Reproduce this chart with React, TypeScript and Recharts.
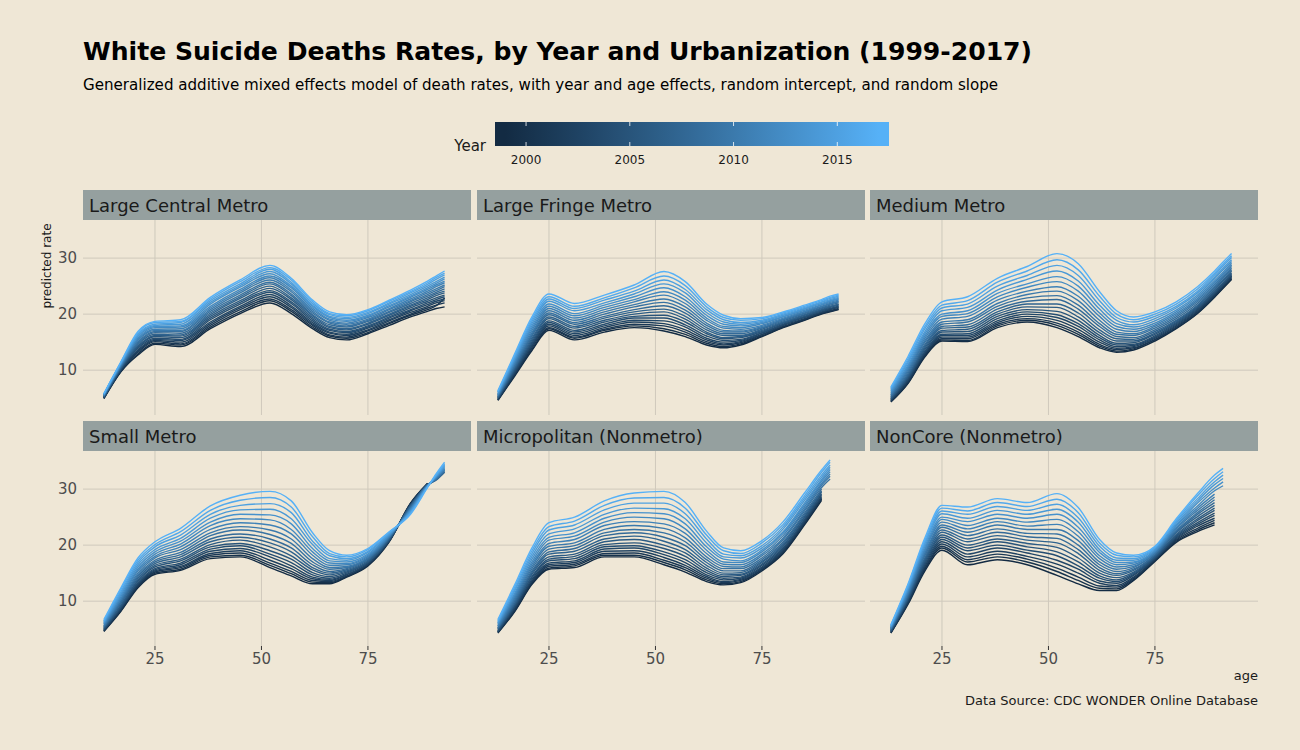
import { LineChart, Line, XAxis, YAxis, CartesianGrid } from 'recharts';

type Rate = number | null;

const ages = [13, 17, 21, 25, 31, 38, 45, 52, 57, 62, 66, 70, 75, 80, 85, 89, 91, 93];
const years = [1999, 2000, 2001, 2002, 2003, 2004, 2005, 2006, 2007, 2008, 2009, 2010, 2011, 2012, 2013, 2014, 2015, 2016, 2017];

// one row per year (1999 first), one column per age
const largeCentral: Rate[][] = [
  [4.9, 9.7, 12.7, 14.6, 14.2, 17.4, 20.1, 22.0, 20.1, 17.4, 15.8, 15.4, 16.5, 18.0, 19.5, 20.5, 21.0, 21.3],
  [5.0, 9.8, 12.9, 14.8, 14.5, 17.7, 20.4, 22.4, 20.5, 17.7, 16.1, 15.7, 16.7, 18.3, 19.8, 20.8, 21.5, 22.9],
  [5.0, 9.9, 13.2, 15.1, 14.7, 18.0, 20.8, 22.7, 20.8, 18.0, 16.3, 15.9, 17.0, 18.5, 20.0, 21.1, 21.6, 22.0],
  [5.1, 10.0, 13.4, 15.3, 15.0, 18.3, 21.1, 23.1, 21.2, 18.2, 16.6, 16.2, 17.2, 18.8, 20.3, 21.4, 22.0, 22.4],
  [5.1, 10.1, 13.6, 15.5, 15.3, 18.6, 21.4, 23.5, 21.5, 18.5, 16.8, 16.4, 17.5, 19.0, 20.6, 21.7, 22.3, 22.7],
  [5.2, 10.2, 13.9, 15.7, 15.5, 19.0, 21.8, 23.9, 21.9, 18.8, 17.1, 16.7, 17.7, 19.3, 20.8, 22.0, 22.6, 23.1],
  [5.2, 10.3, 14.1, 16.0, 15.8, 19.3, 22.1, 24.2, 22.2, 19.1, 17.3, 16.9, 17.9, 19.5, 21.1, 22.3, 22.9, 23.4],
  [5.3, 10.4, 14.3, 16.2, 16.1, 19.6, 22.4, 24.6, 22.6, 19.4, 17.6, 17.2, 18.2, 19.8, 21.4, 22.6, 23.3, 23.8],
  [5.3, 10.5, 14.6, 16.4, 16.3, 19.9, 22.8, 25.0, 22.9, 19.7, 17.8, 17.4, 18.4, 20.0, 21.6, 22.9, 23.6, 24.1],
  [5.4, 10.6, 14.8, 16.7, 16.6, 20.2, 23.1, 25.4, 23.3, 19.9, 18.1, 17.7, 18.7, 20.3, 21.9, 23.2, 23.9, 24.5],
  [5.4, 10.7, 15.0, 16.9, 16.9, 20.5, 23.4, 25.7, 23.6, 20.2, 18.4, 17.9, 18.9, 20.5, 22.2, 23.5, 24.2, 24.9],
  [5.5, 10.8, 15.3, 17.1, 17.1, 20.8, 23.8, 26.1, 24.0, 20.5, 18.6, 18.2, 19.1, 20.8, 22.4, 23.8, 24.5, 25.2],
  [5.5, 10.9, 15.5, 17.3, 17.4, 21.1, 24.1, 26.5, 24.3, 20.8, 18.9, 18.4, 19.4, 21.0, 22.7, 24.1, 24.9, 25.6],
  [5.6, 11.0, 15.7, 17.6, 17.7, 21.4, 24.4, 26.8, 24.7, 21.1, 19.1, 18.7, 19.6, 21.3, 23.0, 24.4, 25.2, 25.9],
  [5.6, 11.1, 16.0, 17.8, 17.9, 21.8, 24.8, 27.2, 25.0, 21.4, 19.4, 18.9, 19.8, 21.5, 23.2, 24.7, 25.5, 26.3],
  [5.7, 11.2, 16.2, 18.0, 18.2, 22.1, 25.1, 27.6, 25.4, 21.6, 19.6, 19.2, 20.1, 21.8, 23.5, 25.0, 25.8, 26.6],
  [5.7, 11.3, 16.4, 18.2, 18.5, 22.4, 25.4, 28.0, 25.7, 21.9, 19.9, 19.4, 20.3, 22.0, 23.8, 25.3, 26.2, 27.0],
  [5.8, 11.4, 16.7, 18.5, 18.7, 22.7, 25.8, 28.3, 26.1, 22.2, 20.1, 19.7, 20.6, 22.3, 24.0, 25.6, 26.5, 27.3],
  [5.8, 11.5, 16.9, 18.7, 19.0, 23.0, 26.1, 28.7, 26.4, 22.5, 20.4, 19.9, 20.8, 22.5, 24.3, 25.9, 26.8, 27.7],
];

const largeFringe: Rate[][] = [
  [4.6, 9.0, 13.5, 17.1, 15.4, 16.8, 17.6, 17.0, 16.0, 14.5, 14.0, 14.5, 16.0, 17.6, 18.9, 20.0, 20.4, 20.8],
  [4.7, 9.2, 13.7, 17.4, 15.7, 17.1, 17.9, 17.4, 16.4, 14.8, 14.2, 14.7, 16.1, 17.7, 19.0, 20.1, 20.5, 20.9],
  [4.7, 9.3, 14.0, 17.6, 15.9, 17.3, 18.2, 17.9, 16.8, 15.1, 14.5, 14.9, 16.3, 17.8, 19.1, 20.2, 20.6, 21.0],
  [4.8, 9.5, 14.3, 17.9, 16.2, 17.6, 18.6, 18.3, 17.2, 15.4, 14.7, 15.1, 16.4, 18.0, 19.2, 20.3, 20.8, 21.2],
  [4.9, 9.7, 14.5, 18.2, 16.5, 17.9, 18.9, 18.8, 17.7, 15.7, 15.0, 15.3, 16.6, 18.1, 19.4, 20.4, 20.9, 21.3],
  [5.0, 9.9, 14.8, 18.5, 16.8, 18.2, 19.3, 19.3, 18.1, 16.1, 15.3, 15.5, 16.7, 18.2, 19.5, 20.6, 21.0, 21.4],
  [5.1, 10.1, 15.1, 18.8, 17.1, 18.6, 19.6, 19.8, 18.6, 16.5, 15.6, 15.8, 16.9, 18.4, 19.6, 20.7, 21.2, 21.6],
  [5.1, 10.3, 15.4, 19.2, 17.5, 18.9, 20.0, 20.4, 19.1, 16.8, 15.8, 16.0, 17.1, 18.5, 19.8, 20.8, 21.3, 21.7],
  [5.2, 10.5, 15.7, 19.5, 17.8, 19.3, 20.4, 20.9, 19.6, 17.2, 16.2, 16.2, 17.3, 18.6, 19.9, 21.0, 21.4, 21.8],
  [5.3, 10.7, 16.1, 19.9, 18.2, 19.6, 20.8, 21.5, 20.2, 17.6, 16.5, 16.5, 17.5, 18.8, 20.1, 21.1, 21.6, 22.0],
  [5.4, 10.9, 16.4, 20.2, 18.5, 20.0, 21.3, 22.1, 20.7, 18.0, 16.8, 16.8, 17.6, 19.0, 20.2, 21.3, 21.8, 22.2],
  [5.5, 11.2, 16.7, 20.6, 18.9, 20.4, 21.7, 22.7, 21.3, 18.4, 17.1, 17.0, 17.8, 19.1, 20.4, 21.4, 21.9, 22.3],
  [5.6, 11.4, 17.1, 21.0, 19.3, 20.8, 22.2, 23.4, 21.9, 18.9, 17.5, 17.3, 18.0, 19.3, 20.5, 21.6, 22.1, 22.5],
  [5.7, 11.7, 17.5, 21.4, 19.7, 21.2, 22.6, 24.0, 22.5, 19.3, 17.8, 17.6, 18.3, 19.5, 20.7, 21.7, 22.3, 22.7],
  [5.8, 11.9, 17.9, 21.8, 20.1, 21.6, 23.1, 24.7, 23.1, 19.8, 18.2, 17.9, 18.5, 19.6, 20.9, 21.9, 22.4, 22.8],
  [6.0, 12.2, 18.3, 22.3, 20.6, 22.0, 23.6, 25.4, 23.8, 20.3, 18.6, 18.2, 18.7, 19.8, 21.0, 22.1, 22.6, 23.0],
  [6.1, 12.4, 18.7, 22.7, 21.0, 22.5, 24.1, 26.1, 24.4, 20.8, 19.0, 18.5, 18.9, 20.0, 21.2, 22.2, 22.8, 23.2],
  [6.2, 12.7, 19.1, 23.1, 21.4, 22.9, 24.7, 26.8, 25.1, 21.3, 19.4, 18.9, 19.2, 20.2, 21.4, 22.4, 23.0, 23.4],
  [6.3, 13.0, 19.5, 23.6, 21.9, 23.4, 25.2, 27.6, 25.8, 21.8, 19.8, 19.2, 19.4, 20.4, 21.6, 22.6, 23.2, 23.6],
];

const mediumMetro: Rate[][] = [
  [4.3, 7.6, 12.4, 15.2, 15.1, 17.6, 18.6, 17.6, 16.0, 14.0, 13.2, 13.6, 15.2, 17.4, 20.1, 23.0, 24.6, 26.2],
  [4.4, 7.7, 12.6, 15.4, 15.3, 17.9, 18.9, 18.0, 16.4, 14.3, 13.4, 13.8, 15.4, 17.5, 20.2, 23.1, 24.7, 26.3],
  [4.5, 7.9, 12.8, 15.6, 15.6, 18.2, 19.2, 18.4, 16.8, 14.6, 13.7, 14.0, 15.5, 17.7, 20.4, 23.3, 24.9, 26.5],
  [4.6, 8.1, 13.0, 15.9, 15.9, 18.5, 19.6, 18.9, 17.3, 15.0, 13.9, 14.2, 15.7, 17.9, 20.6, 23.5, 25.1, 26.7],
  [4.7, 8.3, 13.2, 16.2, 16.2, 18.8, 20.0, 19.4, 17.8, 15.4, 14.2, 14.4, 15.9, 18.1, 20.8, 23.6, 25.2, 26.8],
  [4.8, 8.5, 13.4, 16.4, 16.5, 19.2, 20.4, 19.9, 18.3, 15.8, 14.5, 14.6, 16.1, 18.3, 21.0, 23.8, 25.4, 27.0],
  [4.9, 8.7, 13.7, 16.8, 16.9, 19.6, 20.8, 20.5, 18.9, 16.2, 14.8, 14.9, 16.4, 18.5, 21.2, 24.0, 25.6, 27.2],
  [5.0, 8.9, 14.0, 17.1, 17.3, 20.0, 21.3, 21.2, 19.5, 16.7, 15.2, 15.2, 16.6, 18.7, 21.4, 24.3, 25.9, 27.4],
  [5.2, 9.1, 14.3, 17.5, 17.7, 20.4, 21.8, 21.8, 20.2, 17.2, 15.6, 15.5, 16.9, 18.9, 21.6, 24.5, 26.1, 27.7],
  [5.3, 9.4, 14.6, 17.8, 18.1, 20.9, 22.3, 22.6, 20.9, 17.8, 16.0, 15.8, 17.2, 19.2, 21.9, 24.8, 26.4, 27.9],
  [5.5, 9.7, 15.0, 18.2, 18.6, 21.4, 22.9, 23.3, 21.6, 18.3, 16.4, 16.2, 17.5, 19.5, 22.2, 25.0, 26.6, 28.2],
  [5.6, 10.0, 15.3, 18.6, 19.0, 21.9, 23.5, 24.1, 22.4, 18.9, 16.8, 16.5, 17.8, 19.8, 22.5, 25.3, 26.9, 28.5],
  [5.8, 10.3, 15.7, 19.1, 19.6, 22.5, 24.1, 24.9, 23.2, 19.6, 17.3, 16.9, 18.1, 20.1, 22.8, 25.6, 27.2, 28.8],
  [6.0, 10.6, 16.1, 19.6, 20.1, 23.1, 24.8, 25.8, 24.1, 20.2, 17.8, 17.3, 18.4, 20.4, 23.1, 25.9, 27.5, 29.1],
  [6.2, 10.9, 16.5, 20.0, 20.6, 23.7, 25.4, 26.7, 25.0, 20.9, 18.3, 17.7, 18.8, 20.7, 23.4, 26.3, 27.9, 29.4],
  [6.4, 11.3, 16.9, 20.6, 21.2, 24.3, 26.2, 27.7, 25.9, 21.6, 18.9, 18.1, 19.2, 21.1, 23.8, 26.6, 28.2, 29.7],
  [6.6, 11.6, 17.4, 21.1, 21.8, 25.0, 26.9, 28.7, 26.9, 22.4, 19.4, 18.6, 19.6, 21.4, 24.1, 27.0, 28.6, 30.1],
  [6.8, 12.0, 17.8, 21.6, 22.4, 25.7, 27.7, 29.7, 27.9, 23.2, 20.0, 19.0, 20.0, 21.8, 24.5, 27.3, 28.9, 30.4],
  [7.0, 12.4, 18.3, 22.2, 23.1, 26.4, 28.5, 30.8, 29.0, 24.0, 20.6, 19.5, 20.4, 22.2, 24.9, 27.7, 29.3, 30.8],
];

const smallMetro: Rate[][] = [
  [4.6, 8.2, 12.4, 14.8, 15.5, 17.6, 17.9, 16.0, 14.5, 13.1, 13.1, 14.3, 16.3, 20.6, 27.5, 31.0, null, null],
  [4.7, 8.3, 12.6, 15.0, 15.7, 17.9, 18.2, 16.4, 14.9, 13.4, 13.3, 14.4, 16.4, 20.7, 27.4, 31.0, null, null],
  [4.7, 8.5, 12.7, 15.2, 16.0, 18.2, 18.6, 16.8, 15.3, 13.7, 13.5, 14.5, 16.5, 20.7, 27.4, 31.0, null, null],
  [4.8, 8.6, 12.9, 15.4, 16.2, 18.5, 19.0, 17.3, 15.8, 14.0, 13.7, 14.7, 16.6, 20.8, 27.3, 30.9, null, null],
  [4.9, 8.8, 13.1, 15.6, 16.5, 18.9, 19.4, 17.9, 16.3, 14.3, 13.9, 14.8, 16.7, 20.8, 27.2, 30.9, null, null],
  [5.0, 8.9, 13.3, 15.8, 16.8, 19.3, 19.9, 18.4, 16.9, 14.7, 14.1, 15.0, 16.9, 20.9, 27.1, 30.9, null, null],
  [5.1, 9.1, 13.6, 16.1, 17.2, 19.7, 20.3, 19.0, 17.5, 15.1, 14.4, 15.2, 17.0, 21.0, 27.1, 30.8, null, null],
  [5.2, 9.3, 13.8, 16.4, 17.5, 20.1, 20.9, 19.7, 18.1, 15.6, 14.7, 15.4, 17.1, 21.1, 27.0, 30.8, null, null],
  [5.3, 9.6, 14.1, 16.7, 17.9, 20.6, 21.4, 20.4, 18.8, 16.0, 15.0, 15.6, 17.3, 21.2, 26.9, 30.8, 31.6, 33.0],
  [5.4, 9.8, 14.4, 17.0, 18.3, 21.1, 22.0, 21.1, 19.5, 16.5, 15.3, 15.8, 17.5, 21.3, 26.8, 30.7, 31.7, 33.1],
  [5.5, 10.0, 14.7, 17.3, 18.7, 21.7, 22.7, 21.9, 20.3, 17.0, 15.7, 16.0, 17.6, 21.4, 26.6, 30.7, 31.8, 33.3],
  [5.6, 10.3, 15.0, 17.7, 19.2, 22.2, 23.3, 22.7, 21.1, 17.6, 16.0, 16.2, 17.8, 21.5, 26.5, 30.7, 31.9, 33.4],
  [5.8, 10.5, 15.4, 18.0, 19.7, 22.8, 24.0, 23.6, 22.0, 18.2, 16.4, 16.5, 18.0, 21.6, 26.4, 30.6, 32.0, 33.6],
  [5.9, 10.8, 15.7, 18.4, 20.2, 23.5, 24.7, 24.5, 22.8, 18.8, 16.8, 16.7, 18.2, 21.7, 26.3, 30.6, 32.1, 33.7],
  [6.1, 11.1, 16.1, 18.8, 20.7, 24.1, 25.5, 25.4, 23.8, 19.4, 17.2, 17.0, 18.4, 21.8, 26.1, 30.5, 32.2, 33.9],
  [6.2, 11.4, 16.5, 19.2, 21.2, 24.8, 26.3, 26.4, 24.7, 20.1, 17.6, 17.3, 18.7, 22.0, 26.0, 30.5, 32.3, 34.1],
  [6.4, 11.7, 16.9, 19.7, 21.8, 25.5, 27.1, 27.4, 25.8, 20.7, 18.1, 17.6, 18.9, 22.1, 25.8, 30.4, 32.4, 34.3],
  [6.5, 12.1, 17.3, 20.1, 22.4, 26.2, 28.0, 28.5, 26.8, 21.5, 18.5, 17.9, 19.2, 22.3, 25.7, 30.4, 32.5, 34.5],
  [6.7, 12.4, 17.7, 20.6, 23.0, 27.0, 28.9, 29.6, 27.9, 22.2, 19.0, 18.2, 19.4, 22.4, 25.5, 30.3, 32.7, 34.8],
];

const micropolitan: Rate[][] = [
  [4.3, 8.2, 13.0, 15.7, 16.0, 17.9, 17.9, 16.5, 15.2, 13.5, 12.9, 13.3, 15.4, 18.5, 23.6, 28.0, null, null],
  [4.4, 8.3, 13.2, 15.9, 16.3, 18.2, 18.2, 16.9, 15.6, 13.8, 13.1, 13.5, 15.6, 18.7, 23.8, 28.2, null, null],
  [4.5, 8.5, 13.4, 16.2, 16.6, 18.5, 18.6, 17.3, 16.0, 14.1, 13.3, 13.7, 15.7, 18.9, 24.0, 28.3, null, null],
  [4.5, 8.7, 13.6, 16.5, 16.9, 18.9, 19.0, 17.8, 16.4, 14.4, 13.5, 13.9, 15.9, 19.1, 24.2, 28.5, null, null],
  [4.6, 8.9, 13.9, 16.8, 17.2, 19.3, 19.5, 18.3, 16.9, 14.7, 13.8, 14.1, 16.1, 19.3, 24.4, 28.7, null, null],
  [4.7, 9.1, 14.2, 17.2, 17.6, 19.7, 19.9, 18.8, 17.4, 15.1, 14.1, 14.3, 16.4, 19.5, 24.6, 29.0, null, null],
  [4.8, 9.3, 14.4, 17.5, 18.0, 20.1, 20.4, 19.4, 18.0, 15.5, 14.4, 14.6, 16.6, 19.8, 24.9, 29.2, null, null],
  [5.0, 9.5, 14.8, 17.9, 18.4, 20.6, 21.0, 20.0, 18.6, 15.9, 14.7, 14.8, 16.9, 20.0, 25.1, 29.5, null, null],
  [5.1, 9.7, 15.1, 18.4, 18.9, 21.1, 21.6, 20.7, 19.2, 16.4, 15.0, 15.1, 17.1, 20.3, 25.4, 29.7, null, null],
  [5.2, 10.0, 15.4, 18.8, 19.4, 21.7, 22.2, 21.4, 19.9, 16.9, 15.4, 15.4, 17.4, 20.6, 25.7, 30.0, null, null],
  [5.3, 10.3, 15.8, 19.3, 19.9, 22.2, 22.8, 22.2, 20.6, 17.4, 15.8, 15.8, 17.7, 21.0, 26.1, 30.3, 31.8, null],
  [5.5, 10.6, 16.2, 19.8, 20.4, 22.8, 23.5, 23.0, 21.3, 17.9, 16.2, 16.1, 18.1, 21.3, 26.4, 30.7, 32.3, null],
  [5.6, 10.9, 16.6, 20.3, 21.0, 23.5, 24.2, 23.8, 22.1, 18.5, 16.6, 16.5, 18.4, 21.7, 26.8, 31.0, 32.7, null],
  [5.8, 11.2, 17.0, 20.9, 21.6, 24.1, 25.0, 24.7, 22.9, 19.1, 17.0, 16.9, 18.8, 22.1, 27.2, 31.4, 33.1, null],
  [6.0, 11.5, 17.5, 21.4, 22.2, 24.8, 25.8, 25.6, 23.8, 19.7, 17.5, 17.2, 19.1, 22.4, 27.5, 31.7, 33.5, null],
  [6.1, 11.9, 18.0, 22.0, 22.9, 25.5, 26.6, 26.5, 24.7, 20.4, 17.9, 17.7, 19.5, 22.9, 28.0, 32.1, 33.9, null],
  [6.3, 12.2, 18.5, 22.7, 23.6, 26.3, 27.5, 27.5, 25.6, 21.1, 18.4, 18.1, 19.9, 23.3, 28.4, 32.5, 34.3, null],
  [6.5, 12.6, 19.0, 23.3, 24.3, 27.1, 28.4, 28.5, 26.6, 21.8, 19.0, 18.5, 20.4, 23.7, 28.8, 33.0, 34.8, null],
  [6.7, 13.0, 19.5, 24.0, 25.0, 27.9, 29.3, 29.6, 27.6, 22.5, 19.5, 19.0, 20.8, 24.2, 29.3, 33.4, 35.2, null],
];

const nonCore: Rate[][] = [
  [4.3, 9.4, 15.4, 19.1, 16.5, 17.4, 16.5, 14.6, 13.1, 11.9, 11.9, 13.7, 17.1, 20.5, 22.4, 23.6, null, null],
  [4.4, 9.6, 15.7, 19.5, 17.0, 17.9, 17.0, 15.3, 13.7, 12.3, 12.2, 13.9, 17.2, 20.7, 22.7, 24.0, null, null],
  [4.4, 9.7, 15.9, 19.8, 17.4, 18.4, 17.5, 15.9, 14.3, 12.7, 12.5, 14.1, 17.4, 20.9, 23.0, 24.4, null, null],
  [4.5, 9.9, 16.2, 20.2, 17.9, 18.9, 18.0, 16.6, 15.0, 13.2, 12.8, 14.3, 17.5, 21.1, 23.4, 24.8, null, null],
  [4.6, 10.1, 16.5, 20.6, 18.4, 19.5, 18.6, 17.3, 15.7, 13.6, 13.2, 14.6, 17.6, 21.3, 23.7, 25.3, null, null],
  [4.7, 10.3, 16.8, 21.0, 19.0, 20.0, 19.1, 18.1, 16.3, 14.1, 13.5, 14.8, 17.7, 21.5, 24.0, 25.7, null, null],
  [4.7, 10.4, 17.1, 21.4, 19.5, 20.6, 19.7, 18.8, 17.0, 14.5, 13.8, 15.0, 17.9, 21.7, 24.4, 26.2, null, null],
  [4.8, 10.6, 17.4, 21.8, 20.0, 21.1, 20.3, 19.6, 17.7, 15.0, 14.2, 15.2, 18.0, 21.9, 24.7, 26.6, null, null],
  [4.9, 10.8, 17.7, 22.3, 20.6, 21.7, 20.9, 20.4, 18.5, 15.5, 14.6, 15.5, 18.2, 22.2, 25.1, 27.1, null, null],
  [5.0, 11.0, 18.1, 22.7, 21.1, 22.3, 21.5, 21.2, 19.2, 16.0, 14.9, 15.7, 18.3, 22.4, 25.5, 27.6, null, null],
  [5.1, 11.2, 18.4, 23.2, 21.7, 22.9, 22.1, 22.0, 20.0, 16.5, 15.3, 16.0, 18.5, 22.6, 25.8, 28.1, null, null],
  [5.1, 11.4, 18.7, 23.6, 22.3, 23.6, 22.8, 22.8, 20.8, 17.0, 15.7, 16.2, 18.6, 22.9, 26.2, 28.6, null, null],
  [5.2, 11.6, 19.1, 24.1, 22.9, 24.2, 23.4, 23.7, 21.6, 17.6, 16.1, 16.5, 18.8, 23.1, 26.6, 29.1, null, null],
  [5.3, 11.9, 19.4, 24.6, 23.5, 24.8, 24.1, 24.6, 22.4, 18.1, 16.5, 16.8, 18.9, 23.4, 27.0, 29.7, 30.6, null],
  [5.4, 12.1, 19.8, 25.0, 24.2, 25.5, 24.8, 25.5, 23.2, 18.7, 16.9, 17.0, 19.1, 23.6, 27.5, 30.2, 31.3, null],
  [5.5, 12.3, 20.2, 25.6, 24.8, 26.2, 25.5, 26.4, 24.1, 19.2, 17.3, 17.3, 19.3, 23.9, 27.9, 30.8, 31.9, null],
  [5.6, 12.5, 20.5, 26.1, 25.5, 26.9, 26.2, 27.3, 24.9, 19.8, 17.7, 17.6, 19.5, 24.2, 28.3, 31.3, 32.5, null],
  [5.7, 12.8, 20.9, 26.6, 26.1, 27.6, 26.9, 28.2, 25.8, 20.4, 18.2, 17.9, 19.6, 24.4, 28.8, 31.9, 33.1, null],
  [5.8, 13.0, 21.3, 27.1, 26.8, 28.3, 27.6, 29.2, 26.7, 21.0, 18.6, 18.2, 19.8, 24.7, 29.2, 32.5, 33.7, null],
];

const panels = [
  { name: 'Large Central Metro', rates: largeCentral },
  { name: 'Large Fringe Metro', rates: largeFringe },
  { name: 'Medium Metro', rates: mediumMetro },
  { name: 'Small Metro', rates: smallMetro },
  { name: 'Micropolitan (Nonmetro)', rates: micropolitan },
  { name: 'NonCore (Nonmetro)', rates: nonCore },
];

const xTicks = [25, 50, 75];
const yTicks = [10, 20, 30];
const legendTicks = [2000, 2005, 2010, 2015];

const BG = '#efe7d6';
const GRID = '#cfc9bc';
const STRIP = '#95a09f';
const TEXT = '#1a1a1a';
const TICK_TEXT = '#4d4d4d';
const FONT = 'DejaVu Sans, Verdana, sans-serif';

// ggplot's default continuous colour scale, interpolated in CIELAB
const LOW = '#132B43';
const HIGH = '#56B1F7';

function toLinear(c: number) {
  const v = c / 255;
  return v <= 0.04045 ? v / 12.92 : Math.pow((v + 0.055) / 1.055, 2.4);
}
function fromLinear(v: number) {
  const c = v <= 0.0031308 ? 12.92 * v : 1.055 * Math.pow(v, 1 / 2.4) - 0.055;
  return Math.max(0, Math.min(255, Math.round(c * 255)));
}
function hexToLab(hex: string) {
  const r = toLinear(parseInt(hex.slice(1, 3), 16));
  const g = toLinear(parseInt(hex.slice(3, 5), 16));
  const b = toLinear(parseInt(hex.slice(5, 7), 16));
  const x = (0.4124 * r + 0.3576 * g + 0.1805 * b) / 0.95047;
  const y = 0.2126 * r + 0.7152 * g + 0.0722 * b;
  const z = (0.0193 * r + 0.1192 * g + 0.9505 * b) / 1.08883;
  const f = (t: number) => (t > 0.008856 ? Math.cbrt(t) : 7.787 * t + 16 / 116);
  const fx = f(x), fy = f(y), fz = f(z);
  return [116 * fy - 16, 500 * (fx - fy), 200 * (fy - fz)];
}
function labToHex([L, A, B]: number[]) {
  const fy = (L + 16) / 116;
  const fx = fy + A / 500;
  const fz = fy - B / 200;
  const inv = (t: number) => (t * t * t > 0.008856 ? t * t * t : (t - 16 / 116) / 7.787);
  const x = 0.95047 * inv(fx), y = inv(fy), z = 1.08883 * inv(fz);
  const r = fromLinear(3.2406 * x - 1.5372 * y - 0.4986 * z);
  const g = fromLinear(-0.9689 * x + 1.8758 * y + 0.0415 * z);
  const b = fromLinear(0.0557 * x - 0.204 * y + 1.057 * z);
  return '#' + [r, g, b].map((c) => c.toString(16).padStart(2, '0')).join('');
}
const lowLab = hexToLab(LOW);
const highLab = hexToLab(HIGH);
function ramp(t: number) {
  return labToHex(lowLab.map((v, i) => v + (highLab[i] - v) * t));
}
const yearColor = (yr: number) => ramp((yr - years[0]) / (years[years.length - 1] - years[0]));

// layout, in page pixels
const PLOT_W = 388;
const PLOT_H = 195;
const colLeft = [83, 477, 870];
const rowTop = [220, 451];
const STRIP_H = 30;
const Y_AXIS_W = 40;
const X_AXIS_H = 30;

function Panel({ index }: { index: number }) {
  const col = index % 3;
  const row = Math.floor(index / 3);
  const showY = col === 0;
  const showX = row === 1;
  const rates = panels[index].rates;
  const data = ages.map((age, i) => {
    const d: Record<string, number | null> = { age };
    years.forEach((yr, k) => {
      d[`y${yr}`] = rates[k][i];
    });
    return d;
  });

  return (
    <div
      style={{
        position: 'absolute',
        left: colLeft[col] - (showY ? Y_AXIS_W : 0),
        top: rowTop[row],
      }}
    >
      <LineChart
        width={PLOT_W + (showY ? Y_AXIS_W : 0)}
        height={PLOT_H + (showX ? X_AXIS_H : 0)}
        data={data}
        margin={{ top: 0, right: 0, bottom: 0, left: 0 }}
      >
        <CartesianGrid stroke={GRID} strokeWidth={1} syncWithTicks />
        <XAxis
          dataKey="age"
          type="number"
          domain={[8.1, 99.2]}
          ticks={xTicks}
          interval={0}
          allowDataOverflow
          hide={!showX}
          height={X_AXIS_H}
          axisLine={false}
          tickLine={{ stroke: '#333333' }}
          tickSize={4}
          tickMargin={3}
          tick={{ fill: TICK_TEXT, fontSize: 15, fontFamily: FONT }}
        />
        <YAxis
          type="number"
          domain={[2, 36.8]}
          ticks={yTicks}
          interval={0}
          allowDataOverflow
          hide={!showY}
          width={Y_AXIS_W}
          axisLine={false}
          tickLine={false}
          tickSize={0}
          tickMargin={6}
          tick={{ fill: TICK_TEXT, fontSize: 15, fontFamily: FONT }}
        />
        {years.map((yr) => (
          <Line
            key={yr}
            dataKey={`y${yr}`}
            type="monotone"
            stroke={yearColor(yr)}
            strokeWidth={1.4}
            dot={false}
            activeDot={false}
            isAnimationActive={false}
          />
        ))}
      </LineChart>
    </div>
  );
}

const BAR_X = 495;
const BAR_W = 394;
const BAR_Y = 122;
const BAR_H = 24;
const yearToBar = (yr: number) => 505.3 + (yr - 1999) * 20.75;

export default function App() {
  const gradStops = Array.from({ length: 11 }, (_, i) => i / 10);
  const startOff = (yearToBar(1999) - BAR_X) / BAR_W;
  const endOff = (yearToBar(2017) - BAR_X) / BAR_W;

  return (
    <div
      style={{
        position: 'absolute',
        left: 0,
        top: 0,
        width: 1300,
        height: 750,
        background: BG,
        fontFamily: FONT,
        overflow: 'hidden',
      }}
    >
      {panels.map((p, i) => (
        <Panel key={p.name} index={i} />
      ))}

      <svg
        width={1300}
        height={750}
        style={{ position: 'absolute', left: 0, top: 0, pointerEvents: 'none' }}
        fontFamily={FONT}
      >
        <defs>
          <linearGradient id="yearGrad" x1="0" x2="1" y1="0" y2="0">
            {gradStops.map((t) => (
              <stop key={t} offset={startOff + (endOff - startOff) * t} stopColor={ramp(t)} />
            ))}
          </linearGradient>
        </defs>

        <text x={83} y={60} fontSize={25.1} fontWeight="bold" fill="#000">
          White Suicide Deaths Rates, by Year and Urbanization (1999-2017)
        </text>
        <text x={83} y={90} fontSize={15.1} fill="#000">
          Generalized additive mixed effects model of death rates, with year and age effects, random intercept, and random slope
        </text>

        {/* colour bar legend */}
        <text x={486} y={150.5} fontSize={15} fill={TEXT} textAnchor="end">
          Year
        </text>
        <rect x={BAR_X} y={BAR_Y} width={BAR_W} height={BAR_H} fill="url(#yearGrad)" />
        {legendTicks.map((yr) => (
          <g key={yr}>
            <line x1={yearToBar(yr)} x2={yearToBar(yr)} y1={BAR_Y} y2={BAR_Y + 4} stroke="#ffffff" strokeWidth={1} opacity={0.8} />
            <line x1={yearToBar(yr)} x2={yearToBar(yr)} y1={BAR_Y + BAR_H - 4} y2={BAR_Y + BAR_H} stroke="#ffffff" strokeWidth={1} opacity={0.8} />
            <text x={yearToBar(yr)} y={163.5} fontSize={12} fill={TEXT} textAnchor="middle">
              {yr}
            </text>
          </g>
        ))}

        {/* facet strips */}
        {panels.map((p, i) => {
          const col = i % 3;
          const row = Math.floor(i / 3);
          const top = rowTop[row] - STRIP_H;
          return (
            <g key={p.name}>
              <rect x={colLeft[col]} y={top} width={PLOT_W} height={STRIP_H} fill={STRIP} />
              <text x={colLeft[col] + 6} y={top + 21.5} fontSize={18} fill={TEXT}>
                {p.name}
              </text>
            </g>
          );
        })}

        <text transform="translate(51 266) rotate(-90)" fontSize={12} fill={TEXT} textAnchor="middle">
          predicted rate
        </text>
        <text x={1258} y={680} fontSize={13} fill={TEXT} textAnchor="end">
          age
        </text>
        <text x={1258} y={705} fontSize={13} fill={TEXT} textAnchor="end">
          Data Source: CDC WONDER Online Database
        </text>
      </svg>
    </div>
  );
}
